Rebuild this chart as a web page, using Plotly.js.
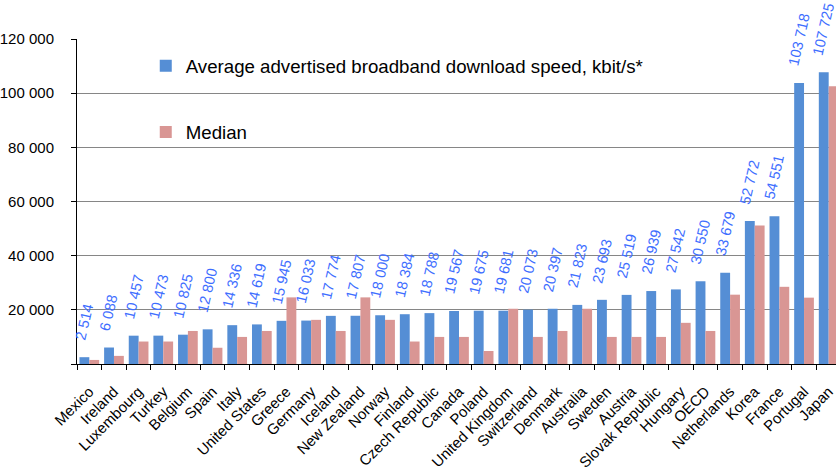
<!DOCTYPE html>
<html>
<head>
<meta charset="utf-8">
<script src="https://cdn.plot.ly/plotly-3.0.1.min.js"></script>
<style>
html,body{margin:0;padding:0;overflow:hidden;background:#fff;}
#chart{width:841px;height:475px;}
</style>
</head>
<body>
<div id="chart"></div>
<script>
const countries = ["Mexico","Ireland","Luxembourg","Turkey","Belgium","Spain","Italy","United States","Greece","Germany","Iceland","New Zealand","Norway","Finland","Czech Republic","Canada","Poland","United Kingdom","Switzerland","Denmark","Australia","Sweden","Austria","Slovak Republic","Hungary","OECD","Netherlands","Korea","France","Portugal","Japan"];
const averageSpeed = [2514,6088,10457,10473,10825,12800,14336,14619,15945,16033,17774,17807,18000,18384,18788,19567,19675,19681,20073,20397,21823,23693,25519,26939,27542,30550,33679,52772,54551,103718,107725];
const medianSpeed = [1500,3000,8300,8300,12200,6000,10000,12200,24600,16300,12200,24600,16300,8300,10000,10000,4800,20400,10000,12200,20400,10000,10000,10000,15200,12200,25600,51100,28500,24500,102600];
const yTickVals = [0,20000,40000,60000,80000,100000,120000];
const yTickText = ["","20 000","40 000","60 000","80 000","100 000","120 000"];
const seriesNames = ["Average advertised broadband download speed, kbit/s*","Median"];

const FONT = "Liberation Sans, Arial, sans-serif";
const fmt = v => v.toLocaleString("en-US").replace(/,/g, " ");

const traces = [
  {
    type: "bar",
    name: seriesNames[0],
    x: countries,
    y: averageSpeed,
    marker: {color: "#558ED5"},
    legendgroup: "a",
    cliponaxis: false,
    hoverinfo: "x+y"
  },
  {
    type: "bar",
    name: seriesNames[1],
    x: countries,
    y: medianSpeed,
    marker: {color: "#D99694"},
    legendgroup: "b",
    hoverinfo: "x+y"
  }
];

// value labels above the blue bars
const labelAnnotations = countries.map((c, i) => ({
  x: c,
  y: averageSpeed[i],
  xref: "x",
  yref: "y",
  text: fmt(averageSpeed[i]),
  showarrow: false,
  textangle: -77,
  xanchor: "center",
  yanchor: "bottom",
  xshift: -5,
  yshift: 13,
  font: {family: FONT, size: 14.67, color: "#3E6EFF"}
}));

const layout = {
  width: 841,
  height: 475,
  margin: {l: 77, r: 0, t: 39, b: 111, pad: 0},
  paper_bgcolor: "#ffffff",
  plot_bgcolor: "#ffffff",
  font: {family: FONT, size: 15, color: "#000000"},
  barmode: "group",
  bargap: 0.2,
  bargroupgap: 0,
  separators: ". ",
  showlegend: true,
  legend: {
    x: 0.09, y: 0.975, xanchor: "left", yanchor: "top",
    bgcolor: "rgba(0,0,0,0)",
    font: {family: FONT, size: 18.67, color: "#000000"},
    traceorder: "grouped",
    tracegroupgap: 39,
    itemwidth: 30
  },
  annotations: labelAnnotations,
  xaxis: {
    type: "category",
    tickangle: -45,
    tickson: "boundaries",
    ticks: "outside",
    ticklen: 5,
    tickcolor: "#000000",
    showline: true,
    linecolor: "#000000",
    linewidth: 1,
    showgrid: false,
    ticklabelstandoff: 12,
    tickfont: {family: FONT, size: 15, color: "#000000"},
    range: [-0.5, countries.length - 0.5],
    fixedrange: true
  },
  yaxis: {
    range: [0, 120000],
    tickvals: yTickVals,
    ticktext: yTickText,
    ticks: "outside",
    ticklen: 5,
    tickcolor: "#000000",
    showline: true,
    linecolor: "#000000",
    linewidth: 1,
    showgrid: true,
    gridcolor: "#868686",
    gridwidth: 1,
    zeroline: false,
    ticklabelstandoff: 14,
    tickfont: {family: FONT, size: 15, color: "#000000"},
    fixedrange: true
  }
};

Plotly.newPlot("chart", traces, layout, {displayModeBar: false, staticPlot: true});
</script>
</body>
</html>
